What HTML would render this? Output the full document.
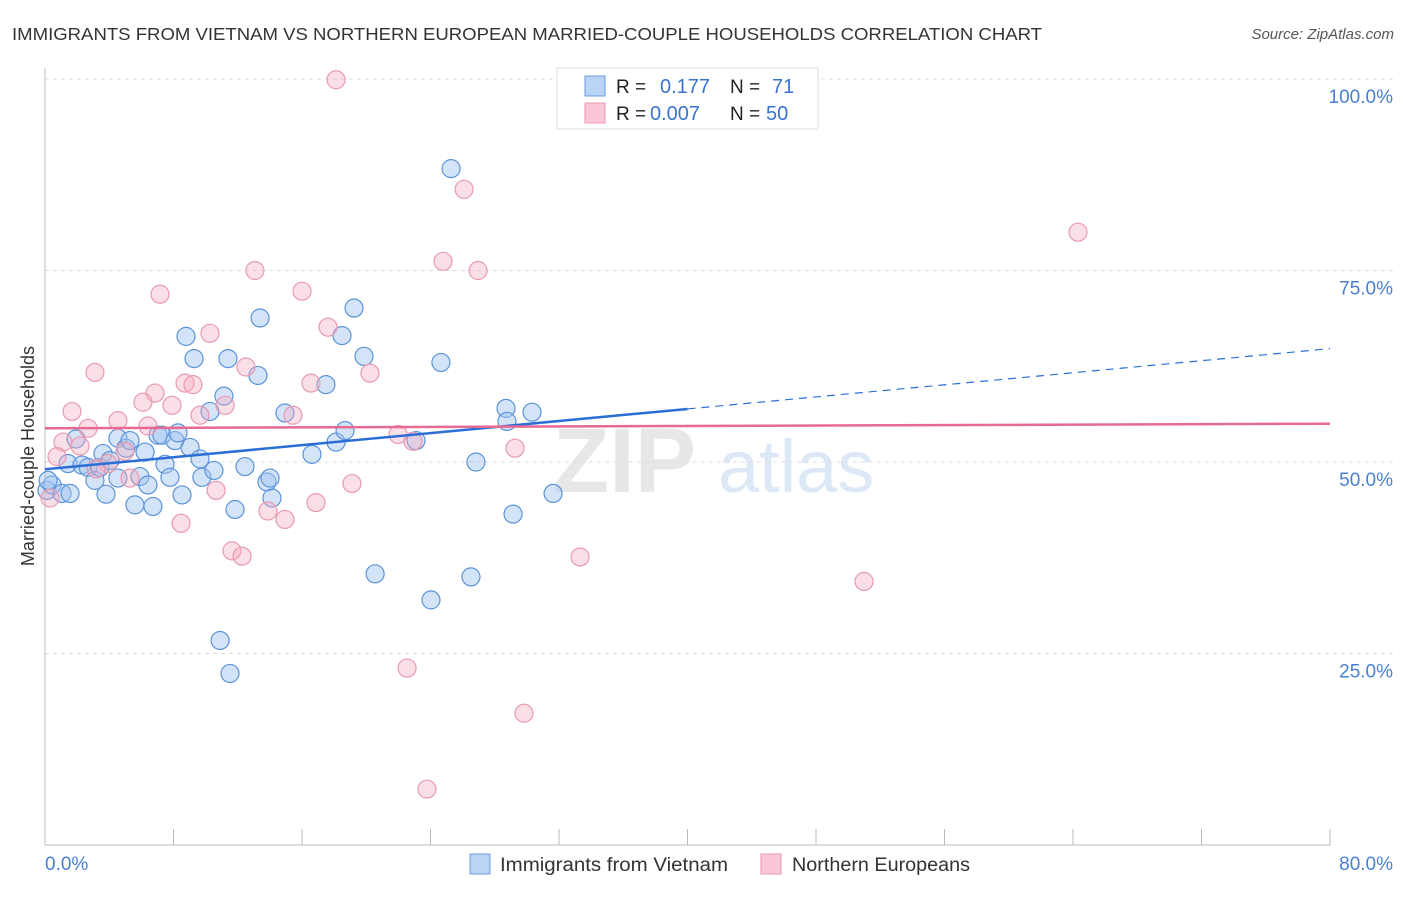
<!DOCTYPE html>
<html><head><meta charset="utf-8"><style>
body{margin:0;background:#fff;font-family:"Liberation Sans",sans-serif}
svg text{font-family:"Liberation Sans",sans-serif}
</style></head><body>
<svg id="chart" width="1406" height="892" xmlns="http://www.w3.org/2000/svg">
<text x="12" y="40" font-size="17.5" fill="#333" textLength="1030" lengthAdjust="spacingAndGlyphs">IMMIGRANTS FROM VIETNAM VS NORTHERN EUROPEAN MARRIED-COUPLE HOUSEHOLDS CORRELATION CHART</text>
<text x="1394" y="39" font-size="15" fill="#555" font-style="italic" text-anchor="end">Source: ZipAtlas.com</text>
<g opacity="0.35">
<text x="553" y="492" font-size="92" font-family="Liberation Serif" fill="#bbb" font-weight="bold">ZIP</text>
<text x="718" y="492" font-size="74" fill="#9cc0e8">atlas</text>
</g>
<g id="grid"></g>
<g id="axes"></g>
<g id="points"></g>
<g id="trends"></g>
<text transform="translate(34,456) rotate(-90)" font-size="18" fill="#333" text-anchor="middle">Married-couple Households</text>
<g>
<rect x="557" y="68" width="261" height="61" fill="#fff" stroke="#ddd"/>
<rect x="585" y="76" width="20" height="20" fill="#b9d4f5" stroke="#6b9ee0"/>
<rect x="585" y="103" width="20" height="20" fill="#f9c7d5" stroke="#ec9ab2"/>
<text x="616" y="93" font-size="19" fill="#222">R = </text><text x="660" y="93" font-size="20" fill="#3a74d0">0.177</text>
<text x="730" y="93" font-size="19" fill="#222">N = </text><text x="772" y="93" font-size="20" fill="#3a74d0">71</text>
<text x="616" y="120" font-size="19" fill="#222">R = </text><text x="650" y="120" font-size="20" fill="#3a74d0">0.007</text>
<text x="730" y="120" font-size="19" fill="#222">N = </text><text x="766" y="120" font-size="20" fill="#3a74d0">50</text>
</g>
<g>
<rect x="470" y="854" width="20" height="20" fill="#b9d4f5" stroke="#6b9ee0"/>
<text x="500" y="871" font-size="19" fill="#333" textLength="228" lengthAdjust="spacingAndGlyphs">Immigrants from Vietnam</text>
<rect x="761" y="854" width="20" height="20" fill="#f9c7d5" stroke="#ec9ab2"/>
<text x="792" y="871" font-size="19" fill="#333" textLength="178" lengthAdjust="spacingAndGlyphs">Northern Europeans</text>
</g>
</svg>
<script>
const blueX=[0.12,0.44,1.06,1.56,1.93,1.43,2.30,2.68,3.11,3.42,3.61,3.80,4.05,4.54,4.54,5.04,5.29,5.60,5.91,6.23,6.41,6.72,7.04,7.28,7.47,7.78,8.09,8.28,8.53,8.78,9.03,9.28,9.65,9.77,10.27,10.52,10.90,11.14,11.39,11.52,11.83,12.45,13.26,13.39,13.82,14.01,14.13,14.94,16.62,17.49,18.12,18.49,18.68,19.24,19.86,20.55,23.10,24.03,24.65,25.28,26.52,26.83,28.70,28.76,29.14,30.32,31.63,0.19];
const blueY=[46.3,47.0,45.9,45.9,53.0,49.8,49.6,49.3,47.6,49.3,51.1,45.8,50.2,53.1,47.9,51.8,52.8,44.4,48.1,51.3,47.0,44.2,53.5,53.5,49.7,48.0,52.8,53.8,45.7,66.4,51.9,63.5,50.4,48.0,56.6,48.9,26.7,58.6,63.5,22.4,43.8,49.4,61.3,68.8,47.4,47.9,45.3,56.4,51.0,60.1,52.6,66.5,54.1,70.1,63.8,35.4,52.8,32.0,63.0,88.3,35.0,50.0,57.0,55.3,43.2,56.5,45.9,47.6];
const pinkX=[18.12,26.09,64.31,13.07,24.78,26.96,7.16,16.00,10.27,17.62,3.11,12.51,20.23,8.72,9.21,16.56,6.85,11.21,6.10,7.91,1.68,9.65,15.44,4.54,2.68,6.41,1.12,2.18,21.98,22.91,29.26,0.75,4.98,3.92,3.18,5.29,0.31,10.65,19.11,16.87,8.47,13.88,14.94,11.64,12.27,33.31,50.99,22.54,29.82,23.78];
const pinkY=[99.9,85.6,80.0,75.0,76.2,75.0,71.9,72.3,66.8,67.6,61.7,62.4,61.6,60.3,60.1,60.3,59.0,57.4,57.8,57.4,56.6,56.1,56.1,55.4,54.4,54.7,52.6,52.1,53.6,52.7,51.8,50.7,51.4,49.8,49.1,47.9,45.3,46.3,47.2,44.7,42.0,43.6,42.5,38.4,37.7,37.6,34.4,23.1,17.2,7.3];
const yTicks=[25,50,75,100];
const yTickLabels=["25.0%","50.0%","75.0%","100.0%"];
const xTicks=[0,8,16,24,32,40,48,56,64,72,80];
const blueTrend=[49.05,64.8]; const blueSolidEnd=40;
const pinkTrend=[54.4,55.0];
const X0=45,X1=1330,Y0=845,Y100=79;
const sx=v=>X0+(v/80)*(X1-X0);
const sy=v=>Y0-(v/100)*(Y0-Y100);
const NS="http://www.w3.org/2000/svg";
function mk(tag,attrs,parent){const e=document.createElementNS(NS,tag);for(const k in attrs)e.setAttribute(k,attrs[k]);parent.appendChild(e);return e;}
const grid=document.getElementById('grid'),axes=document.getElementById('axes'),pts=document.getElementById('points'),tr=document.getElementById('trends');
yTicks.forEach((t,i)=>{
 const l=mk('line',{x1:X0,x2:1393,y1:sy(t),y2:sy(t),stroke:'#ddd','stroke-dasharray':'4,4'},grid);
 
 
 const tx=mk('text',{x:1393,y:sy(t)+24,'font-size':19,fill:'#4a7fd4','text-anchor':'end'},grid);
 tx.textContent=yTickLabels[i];
 
 
});
let a=mk('line',{x1:X0,x2:X0,y1:68,y2:Y0,stroke:'#bbb'},axes);


a=mk('line',{x1:X0,x2:X1,y1:Y0,y2:Y0,stroke:'#bbb'},axes);


xTicks.forEach(t=>{const l=mk('line',{x1:sx(t),x2:sx(t),y1:Y0-16,y2:Y0,stroke:'#bbb'},axes);
 
 });
let t1=mk('text',{x:45,y:870,'font-size':19,fill:'#4a7fd4'},axes);t1.textContent='0.0%';


let t2=mk('text',{x:1393,y:870,'font-size':19,fill:'#4a7fd4','text-anchor':'end'},axes);t2.textContent='80.0%';


blueX.forEach((x,i)=>{const c=mk('circle',{cx:sx(x),cy:sy(blueY[i]),r:9,fill:'rgba(160,196,240,0.45)',stroke:'#5b93d9','stroke-width':1.2},pts);
 
 });
pinkX.forEach((x,i)=>{const c=mk('circle',{cx:sx(x),cy:sy(pinkY[i]),r:9,fill:'rgba(245,170,190,0.38)',stroke:'#e89ab0','stroke-width':1.2},pts);
 
 });
const bAt=x=>blueTrend[0]+(blueTrend[1]-blueTrend[0])*x/80;
let l=mk('line',{x1:sx(0),y1:sy(bAt(0)),x2:sx(blueSolidEnd),y2:sy(bAt(blueSolidEnd)),stroke:'#2b6fd6','stroke-width':2.5},tr);


l=mk('line',{x1:sx(blueSolidEnd),y1:sy(bAt(blueSolidEnd)),x2:sx(80),y2:sy(bAt(80)),stroke:'#2b6fd6','stroke-width':1.2,'stroke-dasharray':'8,6'},tr);


l=mk('line',{x1:sx(0),y1:sy(pinkTrend[0]),x2:sx(80),y2:sy(pinkTrend[1]),stroke:'#e66a93','stroke-width':2.5},tr);


</script>
</body></html>
